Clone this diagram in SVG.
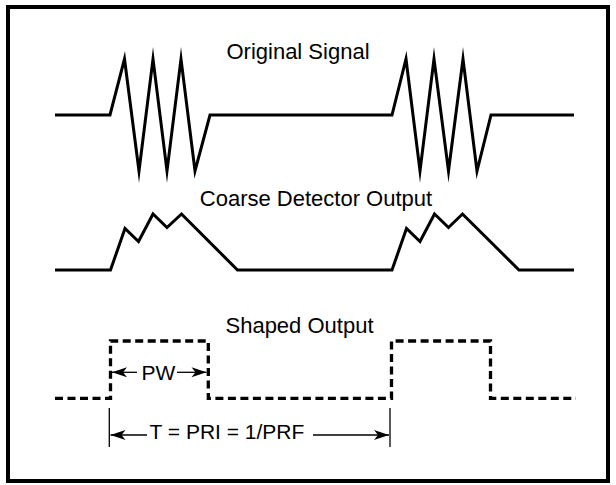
<svg xmlns="http://www.w3.org/2000/svg" width="616" height="485" viewBox="0 0 616 485">
<style>
.frame{fill:none;stroke:#000;stroke-width:4}
.sig{fill:none;stroke:#000;stroke-width:3;stroke-linejoin:miter;stroke-miterlimit:10}
.dash{fill:none;stroke:#000;stroke-width:3.3;stroke-dasharray:8 4.5}
.thin{fill:none;stroke:#000;stroke-width:1.3}
.dim{fill:none;stroke:#000;stroke-width:1.3}
.t{font-family:"Liberation Sans",Arial,sans-serif;fill:#000}
</style>
<defs>
<marker id="ah" markerUnits="userSpaceOnUse" markerWidth="18" markerHeight="12" viewBox="-16 -6 18 12" refX="0" refY="0" orient="auto">
<path d="M0,0 L-15,-5 L-11,0 L-15,5 Z" fill="#000"/>
</marker>
</defs>
<rect class="frame" x="8" y="7" width="600" height="474"/>
<g id="original-signal">
<text class="t" x="298" y="58.5" font-size="22" text-anchor="middle">Original Signal</text>
<path class="sig" d="M55,115 H110 L124.5,59 L139,171 L153,59 L167,171 L181,59 L195,171 L210,115 H392 L406,59 L420,171 L434,59 L448.5,171 L463,59 L477,171 L491,115 H574"/>
</g>
<g id="coarse-detector-output">
<text class="t" x="316" y="205.5" font-size="22" text-anchor="middle">Coarse Detector Output</text>
<path class="sig" d="M55,270 H110.5 L125,228.5 L138.5,241.5 L153,214 L167,227.5 L181.5,214 L237.5,270 H392 L406.5,228.5 L420,241.5 L434.5,214 L448.5,227.5 L462.5,214 L519,270 H574"/>
</g>
<g id="shaped-output">
<text class="t" x="299.5" y="332.5" font-size="22" text-anchor="middle">Shaped Output</text>
<path class="dash" d="M55,398.3 H110.5 V341 H208.3 V398.3 H391.5 V341 H490.5 V398.3 H576"/>
</g>
<g id="pw-label">
<text class="t" x="141.5" y="380" font-size="21">PW</text>
</g>
<g id="pri-label">
<text class="t" x="149.5" y="439" font-size="21">T = PRI = 1/PRF</text>
</g>
<g id="connectors">
<line class="thin" x1="109.3" y1="408" x2="109.3" y2="447"/>
<line class="thin" x1="390" y1="408" x2="390" y2="447"/>
<line class="dim" x1="137" y1="372.3" x2="112" y2="372.3" marker-end="url(#ah)"/>
<line class="dim" x1="177" y1="372.3" x2="206.5" y2="372.3" marker-end="url(#ah)"/>
<line class="dim" x1="147" y1="435" x2="110.5" y2="435" marker-end="url(#ah)"/>
<line class="dim" x1="313" y1="435" x2="389" y2="435" marker-end="url(#ah)"/>
</g>
</svg>
